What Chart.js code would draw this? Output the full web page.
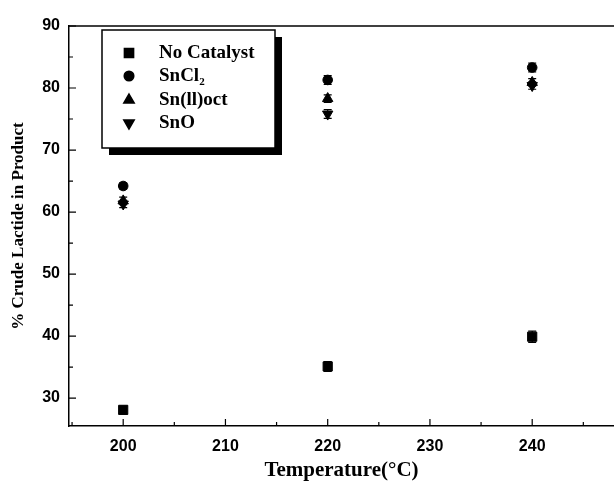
<!DOCTYPE html>
<html>
<head>
<meta charset="utf-8">
<script src="https://cdn.jsdelivr.net/npm/chart.js@4.4.0/dist/chart.umd.min.js"></script>
<style>
  html, body { margin: 0; padding: 0; background: #fff; }
  #wrap { width: 614px; height: 490px; }
</style>
</head>
<body>
<div id="wrap"><canvas id="canvas" width="614" height="490"></canvas></div>
<script>
// data
var temps = [200, 220, 240];
var noCatalyst = [28.1, 35.1, 39.9];
var noCatalystErr = [0.6, 0.8, 0.9];
var sncl2 = [64.2, 81.3, 83.3];
var sncl2Err = [0.5, 0.7, 0.7];
var snOct = [61.8, 78.3, 80.9];
var snOctErr = [0.6, 0.6, 0.6];
var snO = [61.3, 75.8, 80.4];
var snOErr = [0.6, 0.7, 0.6];
var xTicks = [200, 210, 220, 230, 240];
var yTicks = [30, 40, 50, 60, 70, 80, 90];
var legendLabels = ["No Catalyst", "SnCl", "Sn(ll)oct", "SnO"];

function pts(vals, errs) {
  return temps.map(function (t, i) { return { x: t, y: vals[i], err: errs[i] }; });
}

function makeSet(label, vals, errs, style, radius, rot) {
  return {
    label: label,
    data: pts(vals, errs),
    showLine: false,
    pointStyle: style,
    pointRadius: radius,
    pointRotation: rot || 0,
    backgroundColor: "#000",
    borderColor: "#000",
    borderWidth: 1,
  };
}

// error bars, inward ticks and top frame line
var framePlugin = {
  id: "frame",
  afterDatasetsDraw: function (chart) {
    var ctx = chart.ctx;
    var x = chart.scales.x, y = chart.scales.y;
    ctx.save();
    ctx.strokeStyle = "#000";
    ctx.lineWidth = 1.2;
    chart.data.datasets.forEach(function (ds) {
      ds.data.forEach(function (p) {
        var px = x.getPixelForValue(p.x);
        var top = y.getPixelForValue(p.y + p.err);
        var bot = y.getPixelForValue(p.y - p.err);
        ctx.beginPath();
        ctx.moveTo(px, top); ctx.lineTo(px, bot);
        ctx.moveTo(px - 4, top); ctx.lineTo(px + 4, top);
        ctx.moveTo(px - 4, bot); ctx.lineTo(px + 4, bot);
        ctx.stroke();
      });
    });
    var area = chart.chartArea;
    ctx.lineWidth = 1.5;
    ctx.beginPath();
    ctx.moveTo(area.left, area.top);
    ctx.lineTo(area.right, area.top);
    ctx.stroke();
    ctx.lineWidth = 1.2;
    ctx.beginPath();
    for (var v = 195; v <= 245; v += 5) {
      var px = x.getPixelForValue(v);
      var len = v % 10 === 0 ? 7 : 4;
      ctx.moveTo(px, area.bottom);
      ctx.lineTo(px, area.bottom - len);
    }
    for (var w = 30; w <= 90; w += 5) {
      var py = y.getPixelForValue(w);
      var l2 = w % 10 === 0 ? 7 : 4;
      ctx.moveTo(area.left, py);
      ctx.lineTo(area.left + l2, py);
    }
    ctx.stroke();
    ctx.restore();
  },
  afterDraw: function (chart) {
    var ctx = chart.ctx;
    var bx = 102, by = 30, bw = 173, bh = 118;
    ctx.save();
    ctx.fillStyle = "#000";
    ctx.fillRect(bx + 7, by + 7, bw, bh);
    ctx.fillStyle = "#fff";
    ctx.fillRect(bx, by, bw, bh);
    ctx.strokeStyle = "#000";
    ctx.lineWidth = 1.5;
    ctx.strokeRect(bx, by, bw, bh);
    var rows = [53, 76, 100, 123];
    chart.data.datasets.forEach(function (ds, i) {
      var cy = rows[i];
      var cx = 129;
      ctx.fillStyle = "#000";
      Chart.helpers.drawPoint(ctx, {
        pointStyle: ds.pointStyle,
        radius: ds.pointRadius,
        rotation: ds.pointRotation,
        borderWidth: 1,
      }, cx, cy);
      ctx.font = "bold 19px 'Liberation Serif', 'Times New Roman', serif";
      ctx.textBaseline = "middle";
      ctx.textAlign = "left";
      ctx.fillText(legendLabels[i], 159, cy);
      if (i === 1) {
        var wtxt = ctx.measureText(legendLabels[i]).width;
        ctx.font = "bold 11px 'Liberation Serif', 'Times New Roman', serif";
        ctx.fillText("2", 159 + wtxt, cy + 6);
      }
    });
    ctx.restore();
  },
};

var tickFont = { family: "'Liberation Sans', Arial, sans-serif", size: 16, weight: "bold" };
var serif = "'Liberation Serif', 'Times New Roman', serif";

var ctx = document.getElementById("canvas").getContext("2d");
var myChart = new Chart(ctx, {
  type: "scatter",
  data: {
    datasets: [
      makeSet("No Catalyst", noCatalyst, noCatalystErr, "rect", 6.5),
      makeSet("SnCl2", sncl2, sncl2Err, "circle", 4.8),
      makeSet("Sn(ll)oct", snOct, snOctErr, "triangle", 6),
      makeSet("SnO", snO, snOErr, "triangle", 6, 180),
    ],
  },
  plugins: [framePlugin],
  options: {
    responsive: false,
    animation: false,
    layout: { autoPadding: false, padding: { top: 26, right: 0, left: 0, bottom: 0 } },
    plugins: {
      legend: { display: false },
      tooltip: { enabled: false },
    },
    scales: {
      x: {
        type: "linear",
        min: 194.7,
        max: 248,
        afterFit: function (scale) {
          scale.height = 64;
          scale.paddingRight = 0;
          scale.paddingLeft = 0;
        },
        grid: { display: false, drawTicks: false },
        border: { display: true, color: "#000", width: 1.5 },
        ticks: {
          stepSize: 10,
          includeBounds: false,
          autoSkip: false,
          maxRotation: 0,
          padding: 11,
          color: "#000",
          font: tickFont,
          callback: function (v) { return xTicks.indexOf(v) >= 0 ? v : ""; },
        },
        title: {
          display: true,
          text: "Temperature(°C)",
          color: "#000",
          font: { family: serif, size: 21, weight: "bold" },
          padding: { top: 0, bottom: 7 },
        },
      },
      y: {
        min: 25.5,
        max: 90,
        afterFit: function (scale) {
          scale.width = 69;
          scale.paddingTop = 0;
          scale.paddingBottom = 0;
        },
        grid: { display: false, drawTicks: false },
        border: { display: true, color: "#000", width: 1.5 },
        ticks: {
          stepSize: 10,
          includeBounds: false,
          padding: 9,
          color: "#000",
          font: tickFont,
          callback: function (v) { return yTicks.indexOf(v) >= 0 ? v : ""; },
        },
        title: {
          display: true,
          text: "% Crude Lactide in Product",
          color: "#000",
          font: { family: serif, size: 17, weight: "bold" },
          padding: { top: 8, bottom: 0 },
        },
      },
    },
  },
});
</script>
</body>
</html>
